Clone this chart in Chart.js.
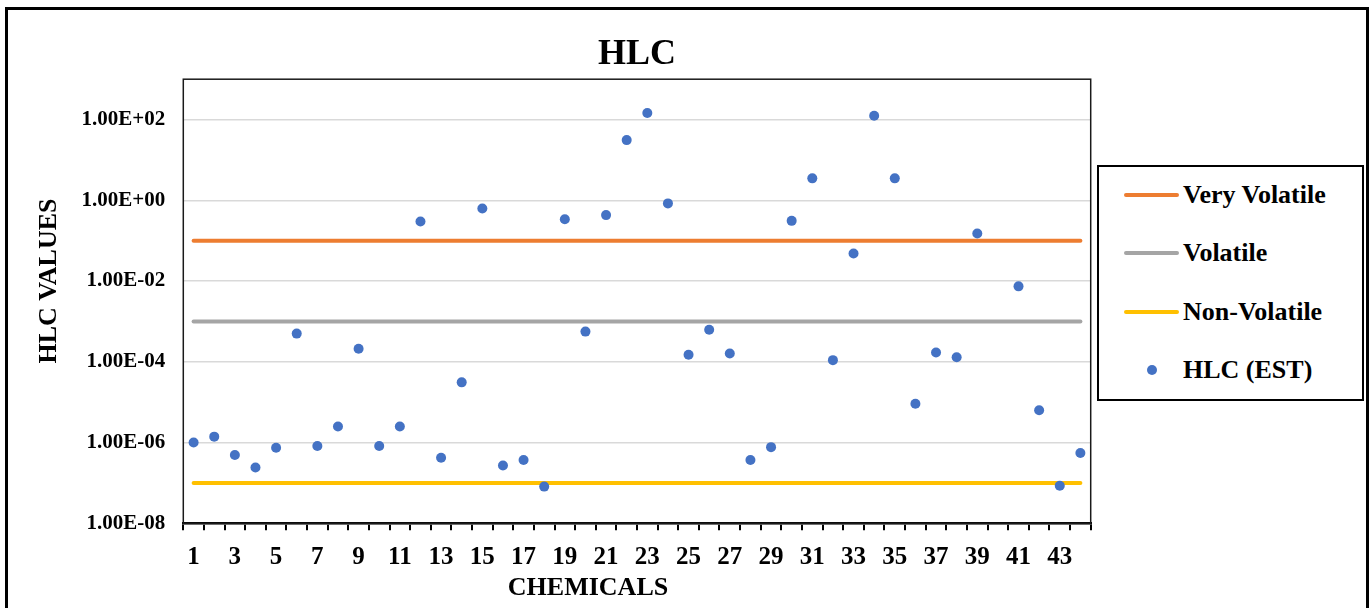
<!DOCTYPE html>
<html>
<head>
<meta charset="utf-8">
<title>HLC</title>
<script src="https://cdn.jsdelivr.net/npm/chart.js@4/dist/chart.umd.min.js"></script>
<style>
  html, body { margin: 0; padding: 0; background: #fff; overflow: hidden; }
  #wrap { position: relative; width: 1369px; height: 608px; }
  #chart { position: absolute; left: 0; top: 0; }
  #frame {
    position: absolute; left: 5px; top: 7px; width: 1364px; height: 700px;
    box-sizing: border-box; border: 3px solid #000; pointer-events: none;
  }
  #legend {
    position: absolute; left: 1097px; top: 165px; width: 267px; height: 236px;
    box-sizing: border-box; border: 2px solid #000; background: #fff;
    font: bold 26px "Liberation Serif", "Times New Roman", serif; color: #000;
  }
  .item { position: absolute; left: 0; height: 30px; width: 100%; }
  .swatch { position: absolute; left: 25px; top: 13px; width: 55px; height: 4px; border-radius: 2px; }
  .dot { position: absolute; left: 48px; top: 10px; width: 10px; height: 10px; border-radius: 50%; }
  .label { position: absolute; left: 84px; top: 0; line-height: 30px; white-space: nowrap; }
</style>
</head>
<body>
<div id="wrap">
  <canvas id="chart" width="1369" height="608"></canvas>
  <div id="legend"></div>
  <div id="frame"></div>
</div>
<script>
// Chemical index numbers along the x axis
const chemicals = ['1','2','3','4','5','6','7','8','9','10','11','12','13','14','15','16','17','18','19','20','21','22',
                   '23','24','25','26','27','28','29','30','31','32','33','34','35','36','37','38','39','40','41','42','43','44'];

// Estimated Henry's law constants, one per chemical (no estimate for chemical 40)
const hlcEst = [1.0e-6, 1.4e-6, 4.9e-7, 2.4e-7, 7.4e-7, 5.0e-4, 8.2e-7, 2.5e-6, 2.1e-4, 8.2e-7,
                2.5e-6, 0.30, 4.2e-7, 3.1e-5, 0.63, 2.7e-7, 3.7e-7, 8.1e-8, 0.34, 5.6e-4,
                0.43, 31, 145, 0.84, 1.5e-4, 6.2e-4, 1.6e-4, 3.7e-7, 7.7e-7, 0.31,
                3.5, 1.1e-4, 0.048, 124, 3.5, 9.1e-6, 1.7e-4, 1.3e-4, 0.15, null,
                0.0074, 6.3e-6, 8.5e-8, 5.5e-7];

// Volatility class thresholds
const veryVolatileLimit = 1e-1;
const volatileLimit = 1e-3;
const nonVolatileLimit = 1e-7;

// Logarithmic y axis ticks
const yTickValues = [1e-8, 1e-6, 1e-4, 1e-2, 1, 1e2];
const yTickLabels = ['1.00E-08', '1.00E-06', '1.00E-04', '1.00E-02', '1.00E+00', '1.00E+02'];

const SERIF = '"Liberation Serif", "Times New Roman", serif';

const thresholdLine = (label, value, color) => ({
  type: 'line',
  label: label,
  data: chemicals.map(() => value),
  borderColor: color,
  backgroundColor: color,
  borderWidth: 4,
  borderCapStyle: 'round',
  pointRadius: 0,
  pointHoverRadius: 0,
  fill: false,
  order: 1
});

// Plot-area outline plus the two axis titles
const frameAndTitles = {
  id: 'frameAndTitles',
  afterDatasetsDraw(chart) {
    const { ctx, chartArea: a } = chart;
    ctx.save();
    ctx.strokeStyle = '#1a1a1a';
    ctx.lineWidth = 1.5;
    ctx.strokeRect(a.left, a.top, a.right - a.left, a.bottom - a.top);
    ctx.restore();
  },
  afterDraw(chart) {
    const { ctx } = chart;
    ctx.save();
    ctx.fillStyle = '#000';
    ctx.font = 'bold 26px ' + SERIF;
    ctx.textAlign = 'center';
    ctx.textBaseline = 'middle';
    ctx.fillText('CHEMICALS', 588, 588);
    ctx.translate(49, 281);
    ctx.rotate(-Math.PI / 2);
    ctx.fillText('HLC VALUES', 0, 0);
    ctx.restore();
  }
};

const chart = new Chart(document.getElementById('chart'), {
  type: 'line',
  data: {
    labels: chemicals,
    datasets: [
      thresholdLine('Very Volatile', veryVolatileLimit, '#ED7D31'),
      thresholdLine('Volatile', volatileLimit, '#A5A5A5'),
      thresholdLine('Non-Volatile', nonVolatileLimit, '#FFC000'),
      {
        type: 'line',
        label: 'HLC (EST)',
        data: hlcEst,
        showLine: false,
        spanGaps: false,
        pointStyle: 'circle',
        pointRadius: 5,
        pointHoverRadius: 5,
        pointBorderWidth: 0,
        pointBackgroundColor: '#4472C4',
        borderColor: '#4472C4',
        backgroundColor: '#4472C4',
        order: 0
      }
    ]
  },
  options: {
    responsive: false,
    animation: false,
    devicePixelRatio: 1,
    layout: { padding: { left: 0, right: 278.3, top: 33, bottom: 0 } },
    plugins: {
      legend: { display: false },
      tooltip: { enabled: false },
      title: {
        display: true,
        text: 'HLC',
        fullSize: false,
        color: '#000',
        font: { family: SERIF, size: 36, weight: 'bold' },
        padding: { top: 0, bottom: 3 }
      }
    },
    scales: {
      x: {
        type: 'category',
        offset: true,
        grid: {
          offset: true,
          drawOnChartArea: false,
          drawTicks: true,
          tickLength: 7,
          color: '#000',
          lineWidth: 2
        },
        border: { display: true, color: '#000', width: 2.5 },
        ticks: {
          autoSkip: false,
          maxRotation: 0,
          minRotation: 0,
          padding: 12,
          color: '#000',
          font: { family: SERIF, size: 25, weight: 'bold' },
          callback: (v, i) => (i % 2 === 0 ? chemicals[i] : '')
        },
        afterFit: (s) => { s.height = 84.7; }
      },
      y: {
        type: 'logarithmic',
        min: 1e-8,
        max: 1e3,
        afterBuildTicks: (s) => { s.ticks = yTickValues.map(v => ({ value: v })); },
        grid: { color: '#d9d9d9', lineWidth: 1.5, drawTicks: false },
        border: { display: false },
        ticks: {
          padding: 18,
          color: '#000',
          font: { family: SERIF, size: 21, weight: 'bold' },
          callback: (v, i) => yTickLabels[i]
        },
        afterFit: (s) => { s.width = 183.3; }
      }
    }
  },
  plugins: [frameAndTitles]
});

// Legend box built from the chart's own datasets
const legendEl = document.getElementById('legend');
chart.data.datasets.forEach((ds, i) => {
  const item = document.createElement('div');
  item.className = 'item';
  item.style.top = (28 + i * 58.3 - 15) + 'px';
  const mark = document.createElement('div');
  if (ds.showLine === false) {
    mark.className = 'dot';
    mark.style.background = ds.pointBackgroundColor;
  } else {
    mark.className = 'swatch';
    mark.style.background = ds.borderColor;
  }
  const text = document.createElement('div');
  text.className = 'label';
  text.textContent = ds.label;
  item.appendChild(mark);
  item.appendChild(text);
  legendEl.appendChild(item);
});
</script>
</body>
</html>
